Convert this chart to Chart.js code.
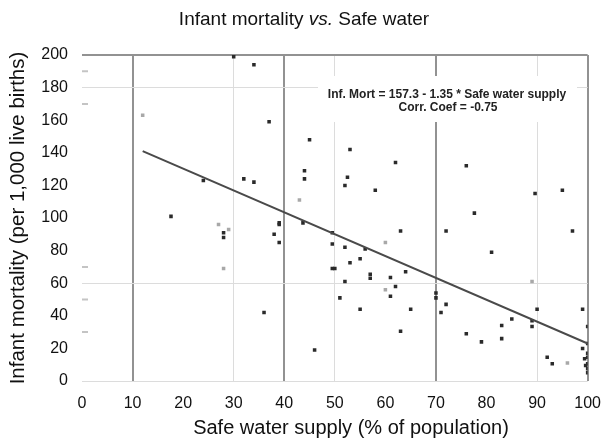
<!DOCTYPE html>
<html>
<head>
<meta charset="utf-8">
<script src="https://cdn.jsdelivr.net/npm/chart.js@4.4.1/dist/chart.umd.min.js"></script>
<style>
  html, body { margin: 0; padding: 0; background: #fff; }
  #wrap { position: relative; width: 614px; height: 441px; }
</style>
</head>
<body>
<div id="wrap"><canvas id="grafico"></canvas></div>
<script>
  'use strict';

  // pontos (agua segura %, mortalidade infantil)
  var aguaX = [30, 34, 37, 45, 44, 44, 32, 34, 24, 17.6, 39, 28, 28, 38, 39, 39, 49.5, 49.5, 49.5, 36, 46,
    53, 62, 52.5, 52, 58, 76, 77.6, 89.6, 95, 97, 72, 63, 81,
    52, 56, 55, 53, 50, 52, 57, 57, 61, 64, 62, 61, 51, 55, 65, 63, 70, 70, 71, 72, 76, 79, 83, 85, 83,
    90, 89, 89, 92, 93, 99, 100, 100, 99, 100, 100, 99.4, 100, 100, 99.6, 100, 43.7];
  var mortY = [199, 194, 159, 148, 129, 124, 124, 122, 123, 101, 97, 91, 88, 90, 96, 85, 84, 91, 69, 42, 19,
    142, 134, 125, 120, 117, 132, 103, 115, 117, 92, 92, 92, 79,
    82, 81, 75, 72.5, 69, 61, 65.5, 63, 63.5, 67, 58, 52, 51, 44, 44, 30.5, 54, 51, 42, 47, 29, 24, 34, 38, 26,
    44, 37, 33.5, 14.6, 10.6, 44, 33.5, 23, 20, 17, 14.6, 13.7, 10.6, 7.5, 9.5, 5, 97];

  // pontos mais claros no original
  var claroX = [12, 43, 27, 29, 28, 60, 60, 89, 96];
  var claroY = [163, 111, 96, 93, 69, 85, 56, 61, 11];

  // marcas cinzas em x = 0
  var zeroX = [0, 0, 0, 0, 0];
  var zeroY = [190, 170, 70, 50, 30];

  // reta de regressao (pontas)
  var retaX = [12, 100];
  var retaY = [141, 23];

  var tituloA = 'Infant mortality ';
  var tituloB = 'vs.';
  var tituloC = ' Safe water';
  var tituloX = 'Safe water supply (% of population)';
  var equacao = ['Inf. Mort = 157.3 - 1.35 * Safe water supply', 'Corr. Coef = -0.75'];

  var linhasEscurasX = [10, 40, 70, 100];
  var linhasClarasX = [30, 50, 90];
  var linhasEscurasY = [200];
  var linhasClarasY = [180, 60, 0];

  function pares(xs, ys) {
    var out = [];
    for (var i = 0; i < xs.length; i++) out.push({ x: xs[i], y: ys[i] });
    return out;
  }

  var textos = {
    id: 'textos',
    afterDraw: function (chart) {
      var c = chart.ctx;
      c.save();
      c.fillStyle = '#111';
      c.textBaseline = 'middle';
      var normal = '19px "Liberation Sans", Arial, sans-serif';
      var italico = 'italic 19px "Liberation Sans", Arial, sans-serif';
      c.font = normal;
      var wa = c.measureText(tituloA).width;
      var wc = c.measureText(tituloC).width;
      c.font = italico;
      var wb = c.measureText(tituloB).width;
      var x = 304 - (wa + wb + wc) / 2;
      c.textAlign = 'left';
      c.font = normal;
      c.fillText(tituloA, x, 20);
      c.font = italico;
      c.fillText(tituloB, x + wa, 20);
      c.font = normal;
      c.fillText(tituloC, x + wa + wb, 20);

      // titulo do eixo x, um pouco deslocado para a direita como no original
      c.textAlign = 'center';
      c.font = '20px "Liberation Sans", Arial, sans-serif';
      c.fillText(tituloX, 351, 428);

      // caixa branca atras da equacao (esconde as grades)
      c.fillStyle = '#fff';
      c.fillRect(318, 76, 259, 46);

      c.font = 'bold 12px "Liberation Sans", Arial, sans-serif';
      c.fillStyle = '#222';
      c.fillText(equacao[0], 447, 95);
      c.fillText(equacao[1], 448, 108);
      c.restore();
    }
  };

  var ctx = document.getElementById('grafico');
  var chart = new Chart(ctx, {
    type: 'scatter',
    data: {
      datasets: [
        {
          data: pares(retaX, retaY),
          showLine: true,
          borderColor: '#4a4a4a',
          borderWidth: 2,
          pointRadius: 0
        },
        {
          data: pares(aguaX, mortY),
          pointStyle: 'rect',
          pointRadius: 2.5,
          backgroundColor: '#2a2a2a',
          borderColor: '#2a2a2a',
          borderWidth: 0
        },
        {
          data: pares(claroX, claroY),
          pointStyle: 'rect',
          pointRadius: 2.5,
          backgroundColor: '#a8a8a8',
          borderColor: '#a8a8a8',
          borderWidth: 0
        },
        {
          data: pares(zeroX, zeroY),
          pointStyle: 'line',
          pointRadius: 6,
          borderColor: '#c4c4c4',
          borderWidth: 2
        }
      ]
    },
    options: {
      responsive: true,
      maintainAspectRatio: false,
      animation: false,
      layout: { padding: { top: 55, right: 15, left: 0, bottom: 0 } },
      plugins: {
        legend: { display: false },
        tooltip: { enabled: false }
      },
      scales: {
        x: {
          min: 0,
          max: 100,
          afterFit: function (scale) { scale.height = 60; },
          border: { display: false },
          grid: {
            drawTicks: false,
            color: function (c) {
              if (linhasEscurasX.indexOf(c.tick.value) >= 0) return '#929292';
              if (linhasClarasX.indexOf(c.tick.value) >= 0) return '#dcdcdc';
              return 'rgba(0,0,0,0)';
            },
            lineWidth: function (c) {
              return linhasEscurasX.indexOf(c.tick.value) >= 0 ? 2 : 1;
            }
          },
          ticks: {
            stepSize: 10,
            padding: 13,
            color: '#111',
            font: { family: '"Liberation Sans", Arial, sans-serif', size: 16 }
          }
        },
        y: {
          min: 0,
          max: 200,
          afterFit: function (scale) { scale.width = 82; },
          border: { display: false },
          grid: {
            drawTicks: false,
            color: function (c) {
              if (linhasEscurasY.indexOf(c.tick.value) >= 0) return '#929292';
              if (linhasClarasY.indexOf(c.tick.value) >= 0) return '#dcdcdc';
              return 'rgba(0,0,0,0)';
            },
            lineWidth: function (c) {
              return linhasEscurasY.indexOf(c.tick.value) >= 0 ? 2 : 1;
            }
          },
          ticks: {
            stepSize: 20,
            padding: 14,
            color: '#111',
            font: { family: '"Liberation Sans", Arial, sans-serif', size: 16 }
          },
          title: {
            display: true,
            text: 'Infant mortality (per 1,000 live births)',
            color: '#111',
            padding: { top: 6, bottom: 0 },
            font: { family: '"Liberation Sans", Arial, sans-serif', size: 20.5 }
          }
        }
      }
    },
    plugins: [textos]
  });
</script>
</body>
</html>
